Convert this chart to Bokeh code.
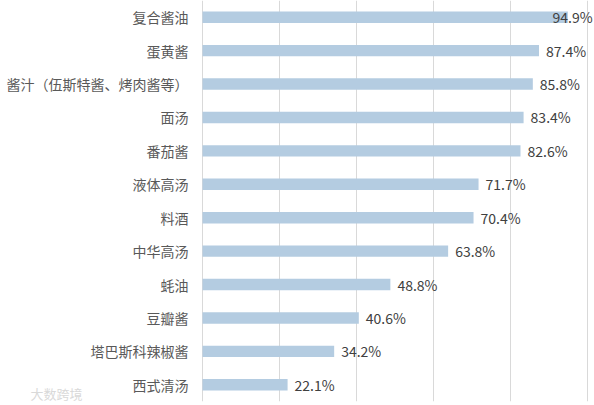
from bokeh.plotting import figure
from bokeh.models import Range1d, FixedTicker, ColumnDataSource, Label
from bokeh.core.properties import value
from bokeh.embed import file_html
from bokeh.resources import INLINE

categories = ["复合酱油", "蛋黄酱", "酱汁（伍斯特酱、烤肉酱等）", "面汤", "番茄酱", "液体高汤",
              "料酒", "中华高汤", "蚝油", "豆瓣酱", "塔巴斯科辣椒酱", "西式清汤"]
values = [94.9, 87.4, 85.8, 83.4, 82.6, 71.7, 70.4, 63.8, 48.8, 40.6, 34.2, 22.1]
value_labels = ["%.1f%%" % v for v in values]
grid_ticks = [0, 20, 40, 60, 80, 100]

FONT = "Noto Sans CJK SC"
PX_PER_UNIT = 3.85
X_START = -202 / PX_PER_UNIT
X_END = (594 - 202) / PX_PER_UNIT
LABEL_W = 40

# label offset: 7px right of bar end, pulled back inside if it would overflow
offsets = []
for v in values:
    room = (X_END - v) * PX_PER_UNIT
    offsets.append(7 if room >= 7 + LABEL_W + 2 else room - LABEL_W - 2)

src = ColumnDataSource(dict(cat=categories, val=values, lab=value_labels, off=offsets))

p = figure(width=594, height=405, y_range=list(reversed(categories)),
           x_range=Range1d(X_START, X_END), output_backend="svg", toolbar_location=None,
           min_border_left=0, min_border_right=0, min_border_top=0, min_border_bottom=4)
p.hbar(y="cat", right="val", left=0, height=0.34, source=src,
       fill_color="#b4cce1", line_color=None)
p.text(x="val", y="cat", text="lab", source=src, x_offset="off",
       text_baseline="middle", text_align="left", text_font=value(FONT),
       text_font_size="14px", text_color="#404040")

p.xaxis.visible = False
p.xgrid.ticker = FixedTicker(ticks=grid_ticks)
p.xgrid.grid_line_color = "#d9d9d9"
p.ygrid.grid_line_color = None
p.outline_line_color = None

ya = p.yaxis[0]
ya.fixed_location = 0
ya.axis_line_color = None
ya.major_tick_line_color = None
ya.minor_tick_line_color = None
ya.major_tick_out = 0
ya.major_tick_in = 0
ya.major_label_standoff = 14
ya.major_label_text_font = FONT
ya.major_label_text_font_size = "14px"
ya.major_label_text_color = "#595959"

p.add_layout(Label(x=30, y=8, x_units="screen", y_units="screen", text="大数跨境",
                   text_baseline="middle", text_font=FONT, text_font_size="13px",
                   text_color="#d9d9d9"))

open("out.html", "w").write(file_html(p, INLINE))
